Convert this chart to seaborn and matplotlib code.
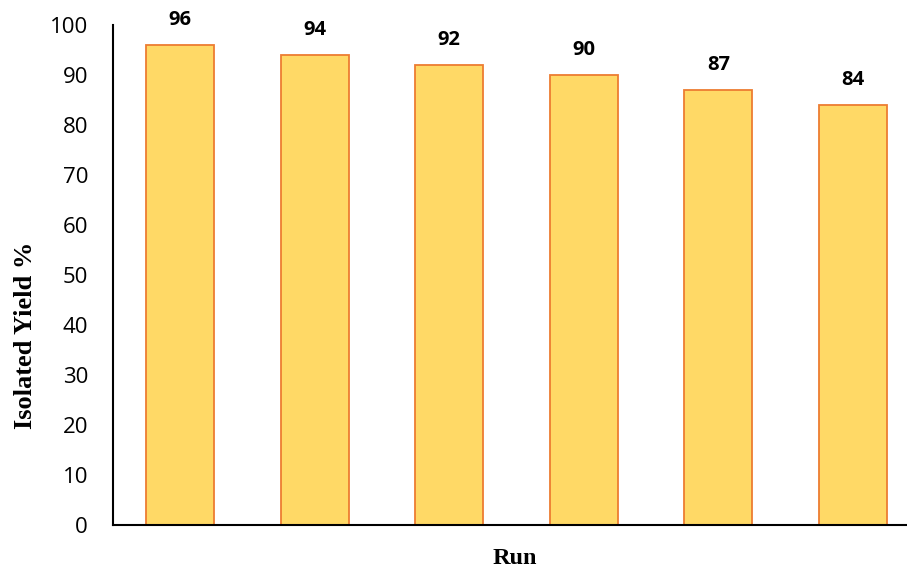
import matplotlib
matplotlib.use("Agg")
import matplotlib.pyplot as plt
import seaborn as sns
import pandas as pd

runs = ["1", "2", "3", "4", "5", "6"]
yields = [96, 94, 92, 90, 87, 84]
y_ticks = [0, 10, 20, 30, 40, 50, 60, 70, 80, 90, 100]

sns.set_theme(style="white")
plt.rcParams["font.family"] = ["Open Sans", "DejaVu Sans"]
plt.rcParams["text.color"] = "black"
plt.rcParams["axes.labelcolor"] = "black"
plt.rcParams["ytick.color"] = "black"

df = pd.DataFrame({"Run": runs, "Yield": yields})

W, H = 907, 569
fig = plt.figure(figsize=(W / 100, H / 100), dpi=100)
ax = fig.add_axes([113 / W, 44 / H, 1 - 113 / W, 500 / H])

sns.barplot(data=df, x="Run", y="Yield", ax=ax, color="#FFD966",
            saturation=1, width=0.506, edgecolor="#ED7D31", linewidth=1.3)

for i, v in enumerate(yields):
    ax.annotate(str(v), (i, v), xytext=(0, 11), textcoords="offset points",
                ha="center", va="bottom", fontsize=14.5, fontweight="bold",
                color="black", annotation_clip=False)

ax.set_ylim(0, 100)
ax.set_xlim(-0.5, 5.5 - 13 / 134.5)
ax.set_yticks(y_ticks)
ax.set_yticklabels([str(t) for t in y_ticks], fontsize=16)
ax.set_xticks([])
ax.set_xlabel("")
ax.set_ylabel("")
ax.tick_params(axis="y", length=0, pad=18)

for side in ["top", "right"]:
    ax.spines[side].set_visible(False)
for side in ["left", "bottom"]:
    ax.spines[side].set_color("black")
    ax.spines[side].set_linewidth(1.5)

fig.text(515 / W, 1 - 559 / H, "Run", fontsize=17.5, fontweight="bold",
         family="Liberation Serif", ha="center", va="center")
fig.text(26 / W, 1 - 335 / H, "Isolated Yield %", fontsize=19,
         fontweight="bold", family="Liberation Serif", rotation=90,
         ha="center", va="center")

fig.savefig("out.png", dpi=100)
